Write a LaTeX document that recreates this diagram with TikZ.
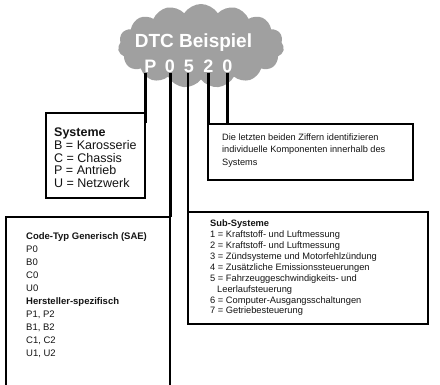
\documentclass[tikz,border=0pt]{standalone}
\usepackage{fontspec}
\setmainfont{Liberation Sans}
\usetikzlibrary{shapes.symbols}
\definecolor{cloudgray}{RGB}{160,160,160}
\definecolor{ink}{RGB}{20,20,20}
\begin{document}
\begin{tikzpicture}[x=1pt,y=-1pt,
  box/.style={draw=black, line width=1.6pt, rectangle, inner sep=0pt, outer sep=0pt, anchor=north west},
  digit/.style={text=white, font=\fontsize{18}{20}\selectfont\bfseries, inner sep=0pt, anchor=base},
  heavy/.style={line width=3pt},
  light/.style={line width=1.6pt},
  txt/.style={inner sep=0pt, anchor=north west, align=left, text=ink}]
\useasboundingbox (0,0) rectangle (440,384);
\fill[white] (0,0) rectangle (440,384);
\clip (0,0) rectangle (440,384);
% cloud
\node[cloud, cloud puffs=15, cloud puff arc=115, aspect=2, fill=cloudgray, draw=none,
      minimum width=166pt, minimum height=84pt, inner sep=0pt] (cloud) at (201,46) {};
\node[text=white, font=\fontsize{19}{21}\selectfont\bfseries, inner sep=0pt, anchor=base] (title) at (193.5,47) {DTC Beispiel};
\node[digit] (dP) at (150.5,72) {P};
\node[digit] (dA) at (170,72) {0};
\node[digit] (dB) at (189,72) {5};
\node[digit] (dC) at (208.5,72) {2};
\node[digit] (dD) at (227.5,72) {0};
% boxes
\node[box, minimum width=99pt, minimum height=85pt] (sys) at (46,113) {};
\node[box, minimum width=164pt, minimum height=175pt] (code) at (6,217) {};
\node[box, minimum width=240pt, minimum height=112pt] (sub) at (188,212) {};
\node[box, minimum width=205pt, minimum height=56pt] (die) at (208,124) {};
% texts
\node[txt, font=\fontsize{12.5}{12.8}\selectfont] (systxt) at (54,127.5)
  {\textbf{Systeme}\\B = Karosserie\\C = Chassis\\P = Antrieb\\U = Netzwerk};
\node[txt, font=\fontsize{9.2}{12.5}\selectfont] (dietxt) at (222,133.4)
  {Die letzten beiden Ziffern identifizieren\\individuelle Komponenten innerhalb des\\Systems};
\node[txt, font=\fontsize{9.5}{13}\selectfont] (codetxt) at (26,232.7)
  {\textbf{Code-Typ Generisch (SAE)}\\P0\\B0\\C0\\U0\\\textbf{Hersteller-spezifisch}\\P1, P2\\B1, B2\\C1, C2\\U1, U2};
\node[txt, font=\fontsize{9.3}{10.9}\selectfont] (subtxt) at (210,219.8)
  {\textbf{Sub-Systeme}\\1 = Kraftstoff- und Luftmessung\\2 = Kraftstoff- und Luftmessung\\3 = Zündsysteme und Motorfehlzündung\\4 = Zusätzliche Emissionssteuerungen\\5 = Fahrzeuggeschwindigkeits- und\\\hspace*{7pt}Leerlaufsteuerung\\6 = Computer-Ausgangsschaltungen\\7 = Getriebesteuerung};
% connectors
\draw[heavy] ([yshift=-0.5pt]dP.south -| sys.north east) -- ([yshift=-10pt]sys.north east);
\draw[heavy] ([yshift=-0.5pt]dA.south) -- (dA.south |- code.north);
\draw[light] ([yshift=-0.5pt]dB.south -| sub.north west) -- (sub.north west);
\draw[heavy] ([yshift=-0.5pt]dC.south -| die.north west) -- (die.north west);
\draw[heavy] ([yshift=-0.5pt]dD.south) -- (dD.south |- die.north);
\end{tikzpicture}
\end{document}
